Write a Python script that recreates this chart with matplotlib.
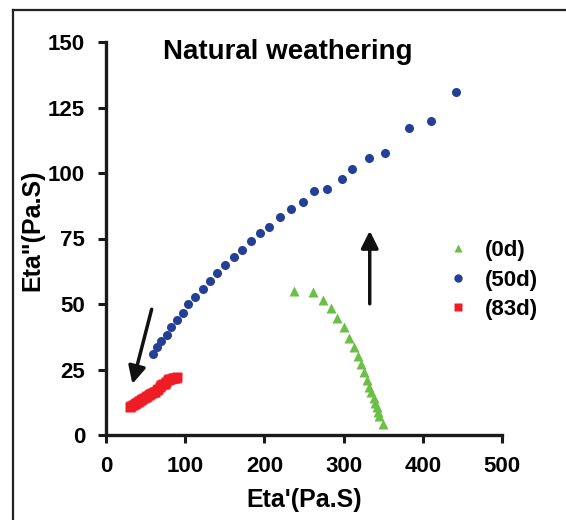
import matplotlib.pyplot as plt
from matplotlib.lines import Line2D

plt.rcParams['font.family'] = ['Liberation Sans', 'DejaVu Sans']
plt.rcParams['font.weight'] = 'bold'

#-----------------data
# (0d)
x_0d = [238, 261, 274, 284, 292, 300, 307, 313, 318, 322, 326, 330, 332, 335, 338,
        340, 342, 343, 345, 350]
y_0d = [55.1, 54.6, 51.7, 48.3, 44.7, 41.2, 37.2, 33.4, 30.3, 27.0, 24.1, 21.0, 18.5,
        16.3, 14.3, 12.3, 10.6, 8.9, 7.4, 4.2]

# (50d)
x_50d = [59, 64, 70, 77, 82, 90, 97, 104, 113, 122, 131, 140, 150, 161, 172, 183,
         194, 206, 220, 233, 249, 262, 279, 298, 311, 332, 352, 383, 410, 442]
y_50d = [30.8, 33.4, 35.8, 38.3, 41.2, 43.9, 46.6, 49.9, 52.8, 55.7, 58.8, 61.8, 64.8,
         67.9, 70.7, 74.0, 77.2, 79.2, 83.2, 86.1, 88.8, 93.0, 94.0, 97.6, 101.5, 105.6,
         107.5, 117.0, 119.7, 130.8]

# (83d)
x_83d = [30, 32, 34, 36, 38, 40, 42, 44, 46, 48, 50, 52, 54, 56, 58, 60, 62, 64, 66,
         68, 70, 72, 74, 76, 78, 80, 82, 84, 86, 88, 90]
y_83d = [10.6, 11.0, 11.4, 11.8, 12.2, 12.6, 13.0, 13.4, 13.8, 14.2, 14.6, 15.0, 15.3,
         15.7, 16.1, 16.4, 16.6, 17.0, 17.6, 18.2, 19.0, 19.3, 19.6, 20.2, 21.0, 21.2,
         21.3, 21.6, 21.7, 21.8, 22.0]

xticks = [0, 100, 200, 300, 400, 500]
yticks = [0, 25, 50, 75, 100, 125, 150]

#-----------------figure
fig = plt.figure(figsize=(5.66, 5.2), dpi=100)
ax = fig.add_axes([106/566, 1 - 435/520, 396/566, 393/520])

ax.plot(x_0d, y_0d, '^', color='#6abf45', ms=6.5, mec='none', label='(0d)')
ax.plot(x_50d, y_50d, 'o', color='#233f96', ms=6.5, mec='none', label='(50d)')
ax.plot(x_83d, y_83d, 's', color='#ee1c24', ms=6.5, mec='none', label='(83d)')

# arrows
ax.annotate('', xy=(333, 79), xytext=(333, 49),
            arrowprops=dict(arrowstyle='-|>', color='#111111', lw=2.5, mutation_scale=26))
ax.annotate('', xy=(32.5, 18.5), xytext=(58.5, 49),
            arrowprops=dict(arrowstyle='-|>', color='#111111', lw=2.5, mutation_scale=26))

ax.set_xlim(0, 500)
ax.set_ylim(0, 150)
ax.set_xticks(xticks)
ax.set_yticks(yticks)
ax.tick_params(direction='out', length=6, width=2.2, pad=9, labelsize=16, color='#1a1a1a')
for s in ['top', 'right']:
    ax.spines[s].set_visible(False)
for s in ['left', 'bottom']:
    ax.spines[s].set_linewidth(2.4)
    ax.spines[s].set_color('#1a1a1a')

ax.set_xlabel("Eta'(Pa.S)", fontsize=18, fontweight='bold')
ax.set_ylabel('Eta"(Pa.S)', fontsize=18, fontweight='bold')
ax.xaxis.set_label_coords(0.5, -0.135)
ax.yaxis.set_label_coords(-0.155, 0.52)

ax.text(0.46, 0.975, 'Natural weathering', transform=ax.transAxes, ha='center',
        va='center', fontsize=20, fontweight='bold')

leg = ax.legend(loc='center left', bbox_to_anchor=(0.822, 0.394), frameon=False,
                fontsize=16, handlelength=0.6, handletextpad=0.9, labelspacing=0.38)
for h in leg.legend_handles:
    h.set_markersize(6)

# frame round the figure
fig.add_artist(Line2D([12.5/566, 12.5/566], [0, 1 - 10/520], color='#222222', lw=1.6,
                      transform=fig.transFigure))
fig.add_artist(Line2D([12.5/566, 1], [1 - 10/520, 1 - 10/520], color='#222222', lw=1.6,
                      transform=fig.transFigure))

fig.savefig('out.png', dpi=100)
